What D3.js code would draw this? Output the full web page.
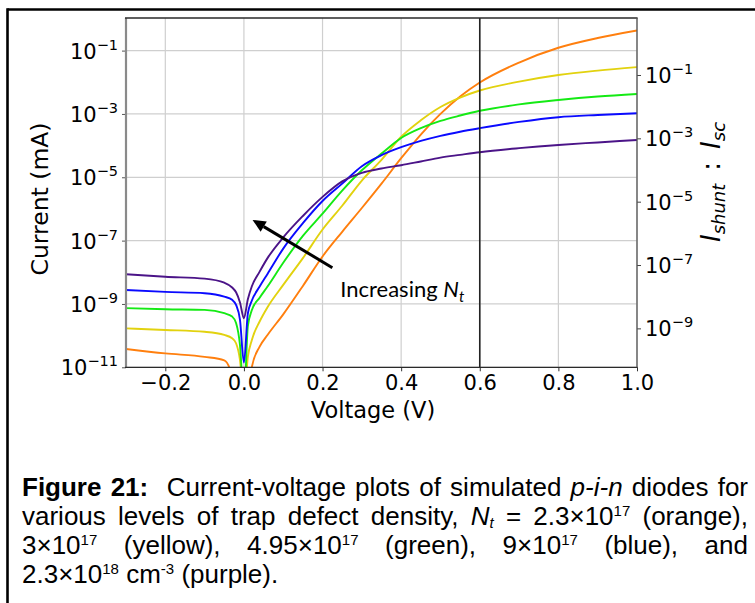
<!DOCTYPE html>
<html>
<head>
<meta charset="utf-8">
<script src="https://cdn.jsdelivr.net/npm/d3@7"></script>
<style>
  body { margin: 0; background: #fff; }
  svg { font-family: "DejaVu Sans", sans-serif; }
</style>
</head>
<body>
<svg id="fig" width="755" height="603"></svg>
<script>
// ---- data: |current| (mA) versus voltage (V) for five trap densities ----
const voltage = [-0.3, -0.2, -0.1, -0.05, -0.03, -0.02, -0.01, 0, 0.01, 0.02, 0.04, 0.06,
                 0.1, 0.15, 0.2, 0.25, 0.3, 0.35, 0.4, 0.45, 0.5, 0.55, 0.6, 0.7, 0.8, 0.9, 1.0];

const currentOrange = [3.8e-11, 2.75e-11, 2.14e-11, 1.66e-11, 5.0e-12, 1e-12, 1e-12, 1e-12, 1e-12, 1.0e-11, 4.5e-11, 1.05e-10,
                       4.7e-10, 3.7e-9, 3.16e-8, 1.9e-7, 1.07e-6, 6.3e-6, 4.0e-5, 2.24e-4, 1.0e-3, 3.55e-3, 9.8e-3, 4.2e-2, 0.123, 0.25, 0.43];
const currentYellow = [1.7e-10, 1.51e-10, 1.32e-10, 1.05e-10, 8.3e-11, 5.75e-11, 1.7e-11, 1e-12, 2.14e-11, 7.2e-11, 2.8e-10, 7.9e-10,
                       4.0e-9, 2.8e-8, 2.24e-7, 1.26e-6, 7.9e-6, 3.55e-5, 1.9e-4, 6.3e-4, 1.66e-3, 3.3e-3, 5.5e-3, 1.05e-2, 1.7e-2, 2.34e-2, 3.0e-2];
const currentGreen  = [7.4e-10, 6.8e-10, 6.5e-10, 5.1e-10, 4.0e-10, 2.5e-10, 5.0e-11, 1e-12, 2.0e-10, 6.3e-10, 1.58e-9, 3.55e-9,
                       2.0e-8, 1.41e-7, 7.1e-7, 3.8e-6, 1.66e-5, 5.6e-5, 1.74e-4, 3.55e-4, 6.0e-4, 8.9e-4, 1.26e-3, 2.0e-3, 2.75e-3, 3.55e-3, 4.27e-3];
const currentBlue   = [2.75e-9, 2.4e-9, 2.19e-9, 1.7e-9, 1.35e-9, 9.3e-10, 3.16e-10, 1.41e-11, 5.0e-10, 1.26e-9, 3.55e-9, 8.9e-9,
                       5.6e-8, 3.55e-7, 1.78e-6, 6.3e-6, 2.24e-5, 5.0e-5, 8.9e-5, 1.41e-4, 2.04e-4, 2.75e-4, 3.55e-4, 5.6e-4, 7.9e-4, 9.3e-4, 1.05e-3];
const currentPurple = [8.7e-9, 7.24e-9, 6.3e-9, 4.68e-9, 3.31e-9, 2.34e-9, 1.12e-9, 3.55e-10, 1.41e-9, 3.55e-9, 1.05e-8, 2.8e-8,
                       1.26e-7, 6.0e-7, 2.4e-6, 7.4e-6, 1.38e-5, 1.9e-5, 2.4e-5, 3.16e-5, 4.17e-5, 5.1e-5, 6.2e-5, 8.3e-5, 1.05e-4, 1.26e-4, 1.51e-4];

const seriesNames  = ["2.3e17", "3e17", "4.95e17", "9e17", "2.3e18"];
const seriesColors = ["#ff7f0e", "#e2d20f", "#14ea14", "#0a0aff", "#4b1488"];
const seriesValues = [currentOrange, currentYellow, currentGreen, currentBlue, currentPurple];

// axis ranges and ticks
const voltageRange = [-0.3, 1.0];
const currentRange = [1e-11, 1.07];          // left axis
const ratioRange   = [5.9e-11, 6.3];          // right axis (I_shunt : I_sc)
const xTicks       = [-0.2, 0.0, 0.2, 0.4, 0.6, 0.8, 1.0];
const xTickLabels  = ["\u22120.2", "0.0", "0.2", "0.4", "0.6", "0.8", "1.0"];
const leftExponents  = [-11, -9, -7, -5, -3, -1];
const rightExponents = [-9, -7, -5, -3, -1];
const markerVoltage = 0.6;

// annotation arrow (tail, head) and its label, in data coordinates
const arrowTail = [0.225, 1.4e-8];
const arrowHead = [0.022, 4.5e-7];
const arrowLabelAt = [0.245, 1.7e-9];

// ---- layout ----
const svg = d3.select("#fig");
const box = { left: 126, right: 637, top: 18, bottom: 367.3 };

const x  = d3.scaleLinear().domain(voltageRange).range([box.left, box.right]);
const y  = d3.scaleLog().domain(currentRange).range([box.bottom, box.top]);
const yR = d3.scaleLog().domain(ratioRange).range([box.bottom, box.top]);

// page frame
svg.append("line").attr("x1", 7.5).attr("x2", 760).attr("y1", 9.5).attr("y2", 9.5)
   .attr("stroke", "#000").attr("stroke-width", 2.6);
svg.append("line").attr("x1", 7.5).attr("x2", 7.5).attr("y1", 8.2).attr("y2", 610)
   .attr("stroke", "#000").attr("stroke-width", 2.6);

// grid
const grid = svg.append("g");
grid.selectAll(".gx").data(xTicks).join("line")
  .attr("x1", d => x(d)).attr("x2", d => x(d))
  .attr("y1", box.top).attr("y2", box.bottom)
  .attr("stroke", "#cfcfcf").attr("stroke-width", 1.2);
grid.selectAll(".gy").data(leftExponents).join("line")
  .attr("x1", box.left).attr("x2", box.right)
  .attr("y1", d => y(Math.pow(10, d))).attr("y2", d => y(Math.pow(10, d)))
  .attr("stroke", "#cfcfcf").attr("stroke-width", 1.2);

// curves
svg.append("clipPath").attr("id", "plotClip").append("rect")
  .attr("x", box.left).attr("y", box.top)
  .attr("width", box.right - box.left).attr("height", box.bottom - box.top);

const line = d3.line()
  .x((d, i) => x(voltage[i]))
  .y(d => y(d))
  .curve(d3.curveMonotoneX);

svg.append("g").attr("clip-path", "url(#plotClip)")
  .selectAll("path").data(seriesValues).join("path")
  .attr("d", d => line(d))
  .attr("fill", "none")
  .attr("stroke", (d, i) => seriesColors[i])
  .attr("stroke-width", 1.9)
  .attr("stroke-linejoin", "round");

// vertical marker at 0.6 V
svg.append("line")
  .attr("x1", x(markerVoltage)).attr("x2", x(markerVoltage))
  .attr("y1", box.top).attr("y2", box.bottom)
  .attr("stroke", "#222").attr("stroke-width", 1.6);

// axes
function powerLabel(sel) {
  sel.each(function (d) {
    const t = d3.select(this);
    const e = Math.round(Math.log10(d));
    t.text(null);
    t.append("tspan").text("10");
    t.append("tspan").attr("dy", -9).attr("font-size", 14.5).text("\u2212" + Math.abs(e));
  });
}

const axL = svg.append("g").attr("transform", `translate(${box.left},0)`)
  .call(d3.axisLeft(y).tickValues(leftExponents.map(e => Math.pow(10, e))).tickSize(4).tickPadding(4));
axL.select(".domain").remove();
axL.selectAll(".tick line").attr("stroke", "#555");
axL.selectAll(".tick text").attr("font-size", 21).attr("font-family", "DejaVu Sans")
   .attr("fill", "#000").attr("dy", "0.36em").call(powerLabel);

const axR = svg.append("g").attr("transform", `translate(${box.right},0)`)
  .call(d3.axisRight(yR).tickValues(rightExponents.map(e => Math.pow(10, e))).tickSize(4).tickPadding(4));
axR.select(".domain").remove();
axR.selectAll(".tick line").attr("stroke", "#444");
axR.selectAll(".tick text").attr("font-size", 21).attr("font-family", "DejaVu Sans")
   .attr("fill", "#000").attr("dy", "0.36em").call(powerLabel);

const axB = svg.append("g").attr("transform", `translate(0,${box.bottom})`)
  .call(d3.axisBottom(x).tickValues(xTicks).tickFormat((d, i) => xTickLabels[i]).tickSize(4).tickPadding(4));
axB.select(".domain").remove();
axB.selectAll(".tick line").attr("stroke", "#333");
axB.selectAll(".tick text").attr("font-size", 21).attr("font-family", "DejaVu Sans").attr("fill", "#000");

// spines
svg.append("line").attr("x1", box.left).attr("x2", box.left).attr("y1", box.top).attr("y2", box.bottom)
   .attr("stroke", "#8a8a8a").attr("stroke-width", 2.2);
svg.append("line").attr("x1", box.left - 1).attr("x2", box.right + 0.6).attr("y1", box.top).attr("y2", box.top)
   .attr("stroke", "#2a2a2a").attr("stroke-width", 1.3);
svg.append("line").attr("x1", box.left - 1).attr("x2", box.right + 0.6).attr("y1", box.bottom).attr("y2", box.bottom)
   .attr("stroke", "#2a2a2a").attr("stroke-width", 1.3);
svg.append("line").attr("x1", box.right).attr("x2", box.right).attr("y1", box.top).attr("y2", box.bottom)
   .attr("stroke", "#555").attr("stroke-width", 1.3);

// axis titles
svg.append("text").attr("x", 373).attr("y", 418)
  .attr("text-anchor", "middle").attr("font-size", 22.5).text("Voltage (V)");
svg.append("text").attr("transform", `translate(48,199) rotate(-90)`)
  .attr("text-anchor", "middle").attr("font-size", 23.5).text("Current (mA)");

const rt = svg.append("text").attr("transform", `translate(720,182) rotate(-90)`)
  .attr("text-anchor", "middle").attr("font-size", 26).attr("font-style", "italic");
rt.append("tspan").text("I");
rt.append("tspan").attr("font-size", 18).attr("dy", 5).text("shunt");
rt.append("tspan").attr("font-style", "normal").attr("dy", -5).text("\u2002:\u2002");
rt.append("tspan").text("I");
rt.append("tspan").attr("font-size", 18).attr("dy", 5).text("sc");

// annotation arrow
const ax0 = x(arrowTail[0]), ay0 = y(arrowTail[1]);
const ax1 = x(arrowHead[0]), ay1 = y(arrowHead[1]);
const ang = Math.atan2(ay1 - ay0, ax1 - ax0);
const headLen = 13, headHalf = 6;
const bx = ax1 - headLen * Math.cos(ang), by = ay1 - headLen * Math.sin(ang);
svg.append("line").attr("x1", ax0).attr("y1", ay0).attr("x2", bx).attr("y2", by)
  .attr("stroke", "#000").attr("stroke-width", 3);
svg.append("polygon")
  .attr("points", [
    [ax1, ay1],
    [bx + headHalf * Math.sin(ang), by - headHalf * Math.cos(ang)],
    [bx - headHalf * Math.sin(ang), by + headHalf * Math.cos(ang)]
  ].map(p => p.join(",")).join(" "))
  .attr("fill", "#000");

const ann = svg.append("text").attr("x", x(arrowLabelAt[0])).attr("y", y(arrowLabelAt[1]))
  .style("font-family", "Lato, 'Open Sans', sans-serif").attr("font-size", 22).attr("fill", "#000");
ann.append("tspan").text("Increasing ");
ann.append("tspan").attr("font-style", "italic").text("N");
ann.append("tspan").attr("font-style", "italic").attr("font-size", 15).attr("dy", 5).text("t");

// caption
const captionLines = [
  [["Figure 21:", "b"], ["  Current-voltage plots of simulated ", ""], ["p-i-n", "i"], [" diodes for", ""]],
  [["various levels of trap defect density, ", ""], ["N", "i"], ["t", "sub"], [" = 2.3\u00d710", ""], ["17", "sup"], [" (orange),", ""]],
  [["3\u00d710", ""], ["17", "sup"], [" (yellow), 4.95\u00d710", ""], ["17", "sup"], [" (green), 9\u00d710", ""], ["17", "sup"], [" (blue), and", ""]],
  [["2.3\u00d710", ""], ["18", "sup"], [" cm", ""], ["-3", "sup"], [" (purple).", ""]]
];
const capLeft = 22, capRight = 748, capTop = 496, capStep = 29;
captionLines.forEach((segs, li) => {
  const t = svg.append("text").attr("x", capLeft).attr("y", capTop + li * capStep)
    .style("font-family", "'Liberation Sans', Arial, sans-serif").attr("font-size", 26)
    .style("white-space", "pre").attr("fill", "#000");
  let shift = 0;
  segs.forEach(([s, k]) => {
    const ts = t.append("tspan").text(s);
    let target = 0;
    if (k === "b") ts.attr("font-weight", "bold");
    if (k === "i") ts.attr("font-style", "italic");
    if (k === "sup") { ts.attr("font-size", 15); target = -9; }
    if (k === "sub") { ts.attr("font-size", 15); ts.attr("font-style", "italic"); target = 3; }
    ts.attr("dy", target - shift);
    shift = target;
  });
  const natural = t.node().getComputedTextLength();
  if (li < captionLines.length - 1) {
    const avail = capRight - capLeft;
    if (natural > avail) {
      t.attr("textLength", avail).attr("lengthAdjust", "spacingAndGlyphs");
    } else {
      const spaces = segs.map(d => d[0]).join("").split(" ").length - 1;
      t.attr("word-spacing", (avail - natural) / spaces);
    }
  }
});
</script>
</body>
</html>
